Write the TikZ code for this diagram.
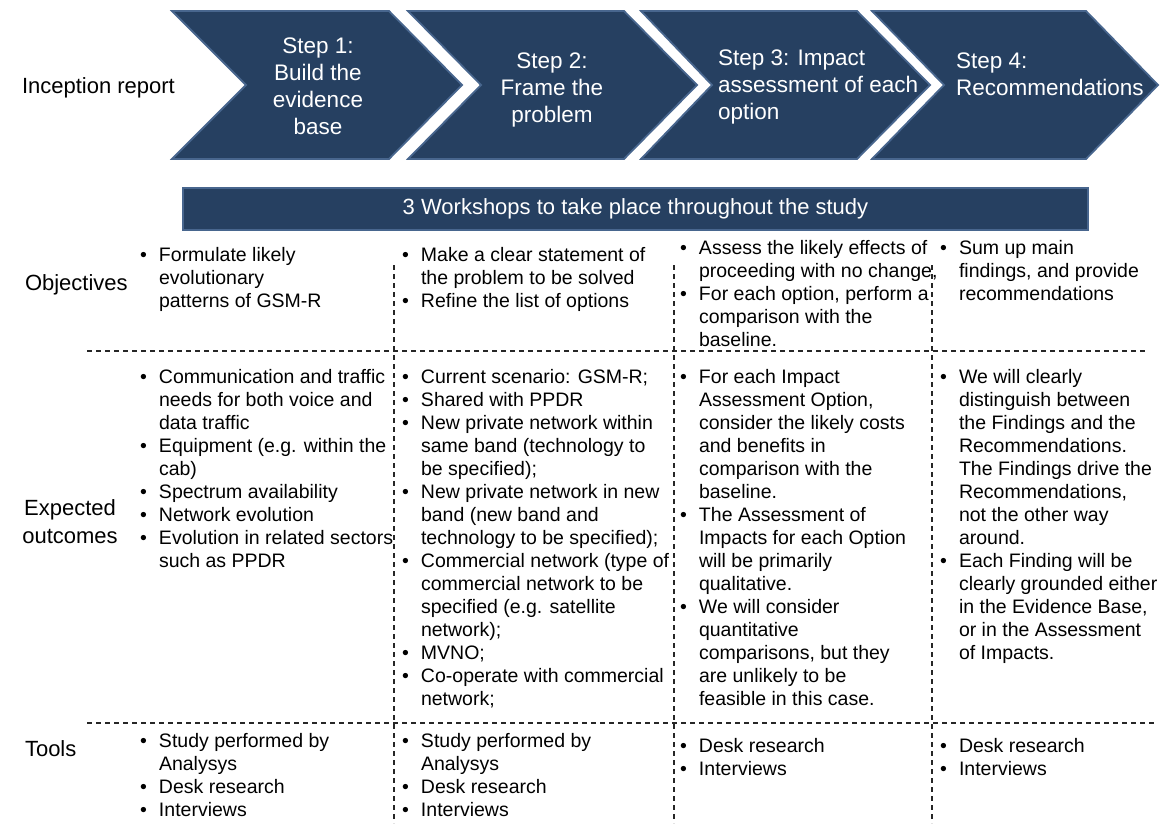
\documentclass[tikz,border=0pt]{standalone}
\usepackage{fontspec}
\setmainfont{Liberation Sans}
\definecolor{navy}{RGB}{38,64,97}
\definecolor{navyedge}{RGB}{72,102,142}
\newcommand{\BL}[1]{\hbox{\hbox to 19pt{\textbullet\hfil}#1}}
\newcommand{\CL}[1]{\hbox{\hspace{19pt}#1}}
\newcommand{\CC}[1]{\hbox to 240pt{\hfil#1\hfil}}
\newcommand{\LL}[1]{\hbox{#1}}
\begin{document}
\begin{tikzpicture}[x=1pt,y=-1pt,
  chev/.style={fill=navy,draw=navyedge,line width=1.8pt,line join=miter},
  bar/.style={fill=navy,draw=navyedge,line width=1.8pt,text=white,minimum width=905pt,minimum height=42pt,inner sep=0pt,font=\fontsize{22}{26}\selectfont},
  body/.style={inner sep=0pt,outer sep=0pt,anchor=base west,font=\fontsize{19.5}{23}\selectfont},
  label/.style={inner sep=0pt,outer sep=0pt,font=\fontsize{22}{28}\selectfont},
  steptext/.style={text=white,inner sep=0pt,outer sep=0pt,font=\fontsize{22.5}{27.3}\selectfont},
  grid/.style={dash pattern=on 5pt off 4pt,line width=1.1pt,black!85}]
\useasboundingbox (0,0) rectangle (1160,823);

% chevrons
\draw[chev] (172,11) -- (389,11) -- (462,85) -- (389,159) -- (172,159) -- (246,85) -- cycle;
\draw[chev] (408,11) -- (624,11) -- (697,85) -- (624,159) -- (408,159) -- (481,85) -- cycle;
\draw[chev] (641,11) -- (857,11) -- (930,85) -- (857,159) -- (641,159) -- (712,85) -- cycle;
\draw[chev] (872,11) -- (1086,11) -- (1158,85) -- (1086,159) -- (872,159) -- (944,85) -- cycle;

\node[steptext,anchor=base] (s1) at (318,53) {\vtop{\CC{Step 1:}\CC{Build the}\CC{evidence}\CC{base}}};
\node[steptext,anchor=base] (s2) at (552,68) {\vtop{\CC{Step 2:}\CC{Frame the}\CC{problem}}};
\node[steptext,anchor=base west] (s3) at (718,65) {\vtop{\LL{Step 3: Impact}\LL{assessment of each}\LL{option}}};
\node[steptext,anchor=base west] (s4) at (956,68) {\vtop{\LL{Step 4:}\LL{Recommendations}}};

\node[label,anchor=base west] (inc) at (22,93) {Inception report};

% workshops bar
\node[bar] (ws) at (635.5,209) {3 Workshops to take place throughout the study};

% grid
\draw[grid] (87,351) -- (1145,351);
\draw[grid] (87,723) -- (1157,723);
\draw[grid] (394,265) -- (394,823);
\draw[grid] (674,265) -- (674,823);
\draw[grid] (932,265) -- (932,823);

% row labels
\node[label,anchor=base west] (lobj) at (25,290) {Objectives};
\node[label,anchor=base] (lexp) at (70,515) {\vtop{\hbox to 120pt{\hfil Expected\hfil}\hbox to 120pt{\hfil outcomes\hfil}}};
\node[label,anchor=base west] (ltools) at (25,756) {Tools};

% objectives
\node[body] (o1) at (140,261) {\vtop{\BL{Formulate likely}\CL{evolutionary}\CL{patterns of GSM-R}}};
\node[body] (o2) at (402,261) {\vtop{\BL{Make a clear statement of}\CL{the problem to be solved}\BL{Refine the list of options}}};
\node[body] (o3) at (680,254) {\vtop{\BL{Assess the likely effects of}\CL{proceeding with no change,}\BL{For each option, perform a}\CL{comparison with the}\CL{baseline.}}};
\node[body] (o4) at (940,254) {\vtop{\BL{Sum up main}\CL{findings, and provide}\CL{recommendations}}};

% expected outcomes
\node[body] (e1) at (140,383) {\vtop{\BL{Communication and traffic}\CL{needs for both voice and}\CL{data traffic}\BL{Equipment (e.g. within the}\CL{cab)}\BL{Spectrum availability}\BL{Network evolution}\BL{Evolution in related sectors}\CL{such as PPDR}}};
\node[body] (e2) at (402,383) {\vtop{\BL{Current scenario: GSM-R;}\BL{Shared with PPDR}\BL{New private network within}\CL{same band (technology to}\CL{be specified);}\BL{New private network in new}\CL{band (new band and}\CL{technology to be specified);}\BL{Commercial network (type of}\CL{commercial network to be}\CL{specified (e.g. satellite}\CL{network);}\BL{MVNO;}\BL{Co-operate with commercial}\CL{network;}}};
\node[body] (e3) at (680,383) {\vtop{\BL{For each Impact}\CL{Assessment Option,}\CL{consider the likely costs}\CL{and benefits in}\CL{comparison with the}\CL{baseline.}\BL{The Assessment of}\CL{Impacts for each Option}\CL{will be primarily}\CL{qualitative.}\BL{We will consider}\CL{quantitative}\CL{comparisons, but they}\CL{are unlikely to be}\CL{feasible in this case.}}};
\node[body] (e4) at (940,383) {\vtop{\BL{We will clearly}\CL{distinguish between}\CL{the Findings and the}\CL{Recommendations.}\CL{The Findings drive the}\CL{Recommendations,}\CL{not the other way}\CL{around.}\BL{Each Finding will be}\CL{clearly grounded either}\CL{in the Evidence Base,}\CL{or in the Assessment}\CL{of Impacts.}}};

% tools
\node[body] (t1) at (140,747) {\vtop{\BL{Study performed by}\CL{Analysys}\BL{Desk research}\BL{Interviews}}};
\node[body] (t2) at (402,747) {\vtop{\BL{Study performed by}\CL{Analysys}\BL{Desk research}\BL{Interviews}}};
\node[body] (t3) at (680,752) {\vtop{\BL{Desk research}\BL{Interviews}}};
\node[body] (t4) at (940,752) {\vtop{\BL{Desk research}\BL{Interviews}}};
\end{tikzpicture}
\end{document}
